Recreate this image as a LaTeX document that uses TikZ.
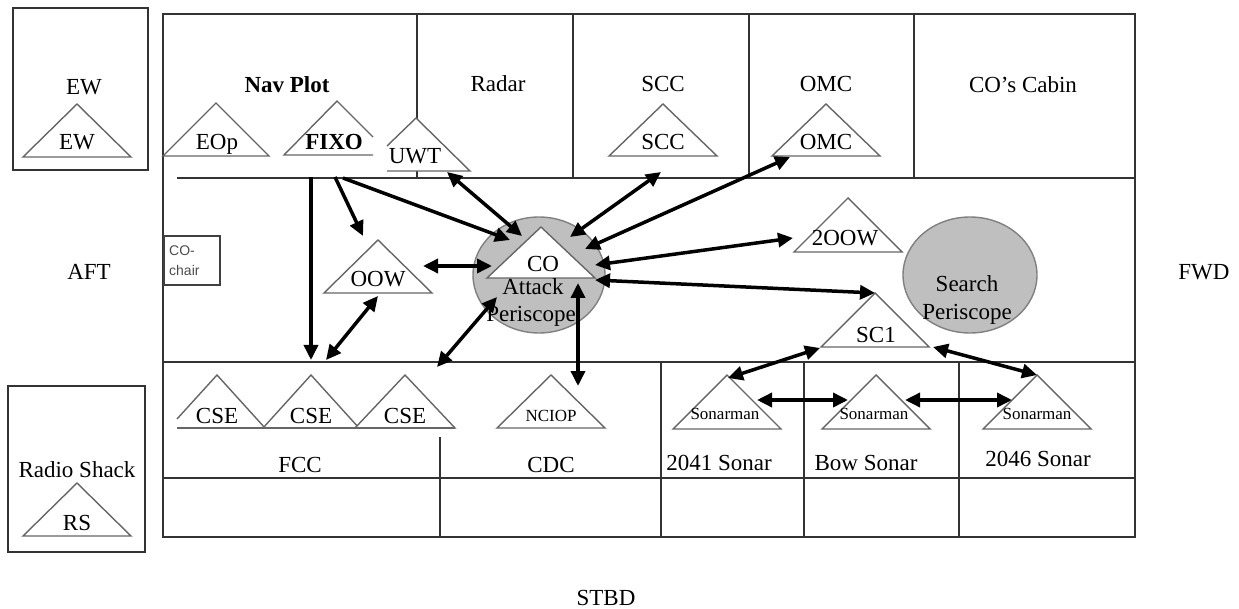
\documentclass[tikz,border=0pt]{standalone}
\usepackage{fontspec}
\setmainfont{Liberation Serif}
\newfontfamily\chairfont{Liberation Sans}
\usetikzlibrary{arrows.meta}
\newcommand{\mytri}[4]{% apex x, apex y, half width, base y
  \draw[tri] (#1,#2) -- ({#1-#3},#4) -- ({#1+#3},#4) -- cycle;}
\begin{document}
\begin{tikzpicture}[x=1pt,y=-1pt,
  wall/.style={draw=black!80, line width=2.2pt},
  thin wall/.style={draw=black!80, line width=1.8pt},
  tri/.style={draw=black!60, line width=1.4pt, fill=white},
  scope/.style={draw=black!50, line width=1.4pt, fill=black!25},
  lbl/.style={font=\fontsize{23}{27}\selectfont, inner sep=0pt, anchor=base},
  blbl/.style={lbl, font=\fontsize{23}{27}\selectfont\bfseries},
  slbl/.style={inner sep=0pt, anchor=base, font=\fontsize{17}{20}\selectfont},
  link/.style={line width=3.5pt, -{Triangle[length=15pt,width=14pt]}},
  dlink/.style={line width=3.5pt, {Triangle[length=15pt,width=14pt]}-{Triangle[length=15pt,width=14pt]}}
]
\useasboundingbox (0,0) rectangle (1239,609);

% ---------- outer rooms ----------
\draw[wall] (13,8) rectangle (148,170);
\draw[wall] (8,386) rectangle (145,552);
\draw[wall] (163,14) rectangle (1135,537);
\draw[wall] (177,178) -- (1135,178);
\draw[wall] (163,362) -- (1135,362);
\draw[wall] (163,478) -- (1135,478);
\foreach \x in {417,573,749,914} \draw[thin wall] (\x,14) -- (\x,178);
\draw[thin wall] (440,437) -- (440,537);
\foreach \x in {661,804,959} \draw[thin wall] (\x,362) -- (\x,537);
\draw[draw=black!75, line width=1.5pt] (164,236) rectangle (220,285);

% ---------- periscopes ----------
\draw[scope] (539,275) ellipse [x radius=66, y radius=58];
\draw[scope] (970,275) ellipse [x radius=67, y radius=58];

% ---------- stations (triangles) ----------
\mytri{77}{104}{54}{157}
\mytri{77}{483}{54}{536}
\mytri{216}{103}{53}{156}
\draw[tri] (373,155) -- (284,155) -- (337,101) -- (373,137);
\draw[tri] (387,146) -- (416,118) -- (470,171) -- (387,171);
\mytri{663}{104}{54}{156}
\mytri{826}{104}{54}{156}
\mytri{541}{227}{54}{278}
\mytri{378}{240}{54}{293}
\mytri{848}{198}{54}{252}
\mytri{875}{293}{54}{347}
\draw[tri] (177,419) -- (217,375) -- (265,428);
\mytri{311}{375}{48}{428}
\mytri{405}{375}{50}{428}
\draw[tri] (177,428) -- (455,428);
\mytri{551}{375}{54}{428}
\mytri{727}{375}{54}{429}
\mytri{876}{375}{54}{429}
\mytri{1037}{375}{54}{429}

% ---------- labels ----------
\node[lbl] (ewroom) at (84,95) {EW};
\node[lbl] (ew) at (77,150) {EW};
\node[lbl] (radioshack) at (77,477) {Radio Shack};
\node[lbl] (rs) at (77,530) {RS};
\node[lbl] (aft) at (89,280) {AFT};
\node[lbl] (fwd) at (1204,280) {FWD};
\node[lbl] (stbd) at (606,605) {STBD};
\node[blbl] (navplot) at (287,93) {Nav Plot};
\node[lbl] (eop) at (217,150) {EOp};
\node[blbl] (fixo) at (334,150) {FIXO};
\node[lbl] (uwt) at (415,164) {UWT};
\node[lbl] (radar) at (498,92) {Radar};
\node[lbl] (sccroom) at (663,92) {SCC};
\node[lbl] (scc) at (663,150) {SCC};
\node[lbl] (omcroom) at (826,92) {OMC};
\node[lbl] (omc) at (826,150) {OMC};
\node[lbl] (cabin) at (1023,93) {CO's Cabin};
\node[inner sep=0pt, anchor=base west, align=left, text=black!70,
      font=\chairfont\fontsize{14}{20}\selectfont] (cochair) at (169,276) {CO-\\chair};
\node[lbl] (co) at (543,272) {CO};
\node[lbl] (attack) at (533,295) {Attack};
\node[lbl] (attackp) at (531,322) {Periscope};
\node[lbl] (oow) at (378,287) {OOW};
\node[lbl] (twooow) at (845,246) {2OOW};
\node[lbl] (sc1) at (876,342) {SC1};
\node[lbl] (search) at (967,292) {Search};
\node[lbl] (searchp) at (967,320) {Periscope};
\node[lbl] (cse1) at (217,423) {CSE};
\node[lbl] (cse2) at (311,423) {CSE};
\node[lbl] (cse3) at (405,423) {CSE};
\node[slbl] (nciop) at (551,421) {NCIOP};
\node[lbl] (fcc) at (300,472) {FCC};
\node[lbl] (cdc) at (551,472) {CDC};
\node[slbl] (son1) at (725,419) {Sonarman};
\node[slbl] (son2) at (874,419) {Sonarman};
\node[slbl] (son3) at (1037,419) {Sonarman};
\node[lbl] (s2041) at (719,470) {2041 Sonar};
\node[lbl] (sbow) at (866,470) {Bow Sonar};
\node[lbl] (s2046) at (1038,466) {2046 Sonar};

% ---------- connector end points ----------
\coordinate (fixoA) at (311,177);
\coordinate (fixoB) at (335,177);
\coordinate (fixoC) at (343,178);
\coordinate (fccTop) at (311,360);
\coordinate (oowTop) at (363,236);
\coordinate (oowR) at (423,266);
\coordinate (oowB) at (378,296);
\coordinate (cseTop) at (326,360);
\coordinate (cse3Top) at (437,367);
\coordinate (coL) at (510,240);
\coordinate (coUL) at (522,236);
\coordinate (coW) at (492,266);
\coordinate (coSW) at (497,297);
\coordinate (coS) at (578,283);
\coordinate (coN) at (570,237);
\coordinate (coNE) at (585,249);
\coordinate (coE) at (595,265);
\coordinate (coE2) at (595,280);
\coordinate (uwtB) at (447,172);
\coordinate (sccB) at (661,172);
\coordinate (omcL) at (790,157);
\coordinate (twooowL) at (793,238);
\coordinate (sc1Top) at (875,293);
\coordinate (sc1L) at (820,348);
\coordinate (sc1R) at (933,347);
\coordinate (nciopTop) at (578,386);
\coordinate (son1Top) at (728,378);
\coordinate (son1R) at (757,400);
\coordinate (son2L) at (848,400);
\coordinate (son2R) at (905,400);
\coordinate (son3L) at (1012,400);
\coordinate (son3Top) at (1037,375);

% ---------- connectors ----------
\draw[link] (fixoA) -- (fccTop);
\draw[link] (fixoB) -- (oowTop);
\draw[link] (fixoC) -- (coL);
\draw[dlink] (uwtB) -- (coUL);
\draw[dlink] (oowR) -- (coW);
\draw[dlink] (oowB) -- (cseTop);
\draw[dlink] (cse3Top) -- (coSW);
\draw[dlink] (coS) -- (nciopTop);
\draw[dlink] (coN) -- (sccB);
\draw[dlink] (coNE) -- (omcL);
\draw[dlink] (coE) -- (twooowL);
\draw[dlink] (coE2) -- (sc1Top);
\draw[dlink] (sc1L) -- (son1Top);
\draw[dlink] (sc1R) -- (son3Top);
\draw[dlink] (son1R) -- (son2L);
\draw[dlink] (son2R) -- (son3L);
\end{tikzpicture}
\end{document}
